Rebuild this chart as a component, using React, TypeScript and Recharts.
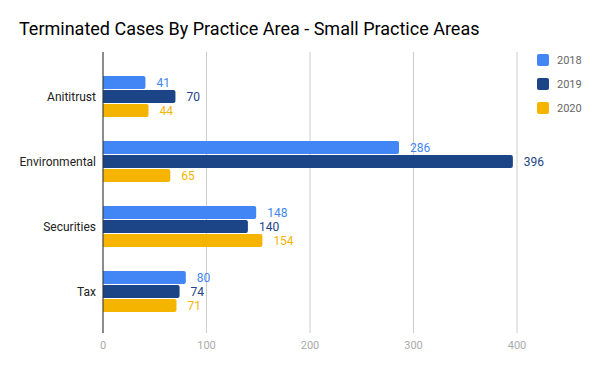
import React from 'react';
import { BarChart, Bar, XAxis, YAxis, CartesianGrid, Legend, LabelList } from 'recharts';

const areas = ['Anititrust', 'Environmental', 'Securities', 'Tax'];
const cases2018 = [41, 286, 148, 80];
const cases2019 = [70, 396, 140, 74];
const cases2020 = [44, 65, 154, 71];
const xTicks = [0, 100, 200, 300, 400];

const series = [
  { key: 'y2018', name: '2018', color: '#4285f4' },
  { key: 'y2019', name: '2019', color: '#1c4587' },
  { key: 'y2020', name: '2020', color: '#f4b400' },
];

const data = areas.map((area, i) => ({
  area,
  y2018: cases2018[i],
  y2019: cases2019[i],
  y2020: cases2020[i],
}));

const font = 'Roboto, sans-serif';

function LegendBox(props: any) {
  const items = props.payload || [];
  return (
    <div style={{ fontFamily: font }}>
      {items.map((it: any) => (
        <div key={it.value} style={{ display: 'flex', alignItems: 'center', height: 24 }}>
          <span
            style={{
              width: 12,
              height: 12,
              borderRadius: 2,
              background: it.color,
              display: 'inline-block',
              marginRight: 8,
            }}
          />
          <span style={{ fontSize: 11, color: '#666' }}>{it.value}</span>
        </div>
      ))}
    </div>
  );
}

export default function App() {
  return (
    <div style={{ position: 'absolute', left: 0, top: 0, width: 600, height: 371, background: '#fff' }}>
      <div
        style={{
          position: 'absolute',
          left: 19,
          top: 18,
          fontFamily: font,
          fontSize: 18,
          color: '#000',
          whiteSpace: 'nowrap',
        }}
      >
        Terminated Cases By Practice Area - Small Practice Areas
      </div>
      <BarChart
        width={600}
        height={371}
        data={data}
        layout="vertical"
        margin={{ top: 52, right: 83, bottom: 8, left: 0 }}
        barGap={1}
        barSize={13}
      >
        <CartesianGrid horizontal={false} stroke="#cccccc" />
        <XAxis
          type="number"
          domain={[0, 400]}
          ticks={xTicks}
          axisLine={false}
          tickLine={false}
          height={30}
          tick={{ fontSize: 11, fill: '#ababab', fontFamily: font }}
        />
        <YAxis
          type="category"
          dataKey="area"
          width={103}
          padding={{ top: 12, bottom: 9 }}
          axisLine={{ stroke: '#333' }}
          tickLine={false}
          tickSize={5}
          tickMargin={2}
          tick={{ fontSize: 12, fill: '#222', fontFamily: font }}
        />
        <Legend
          layout="vertical"
          align="center"
          verticalAlign="middle"
          wrapperStyle={{ left: 537, top: 48, width: 60, height: 80 }}
          content={LegendBox}
        />
        {series.map((s) => (
          <Bar
            key={s.key}
            dataKey={s.key}
            name={s.name}
            fill={s.color}
            radius={[0, 2, 2, 0]}
            isAnimationActive={false}
          >
            <LabelList
              dataKey={s.key}
              position="right"
              offset={11}
              fill={s.color}
              style={{ fontSize: 12, fontFamily: font }}
            />
          </Bar>
        ))}
      </BarChart>
    </div>
  );
}
